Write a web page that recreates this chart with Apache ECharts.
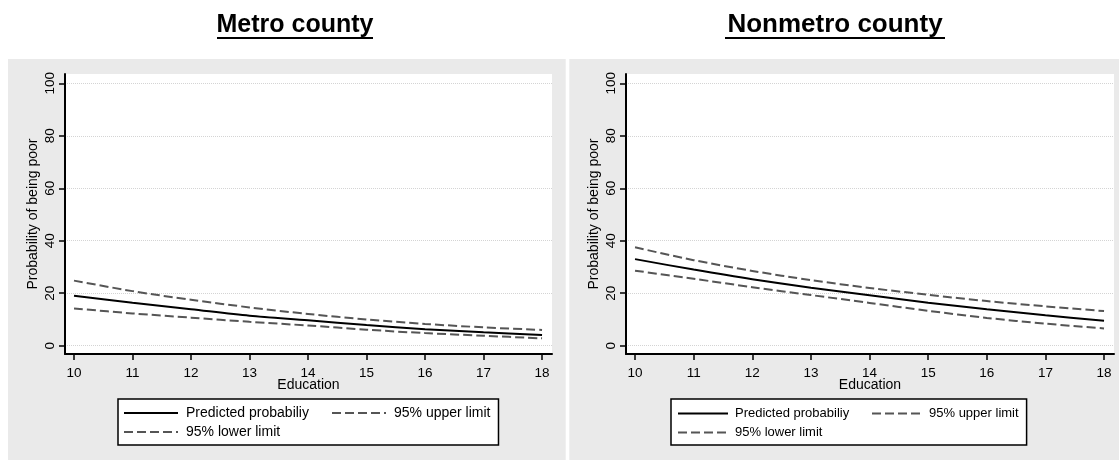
<!DOCTYPE html>
<html><head><meta charset="utf-8">
<script src="https://cdn.jsdelivr.net/npm/echarts@6/dist/echarts.min.js"></script>
<style>html,body{margin:0;padding:0;background:#fff}#c{width:1119px;height:460px}</style>
</head><body><div id="c"></div>
<script>
// ---- data ----
const educationLevels = [10, 11, 12, 13, 14, 15, 16, 17, 18];
const yTickValues = [0, 20, 40, 60, 80, 100];
const panelTitles = ['Metro county', 'Nonmetro county'];
const seriesNames = ['Predicted probabiliy', '95% upper limit', '95% lower limit'];
const xAxisTitle = 'Education';
const yAxisTitle = 'Probability of being poor';

const metroPredicted = [19.0, 16.4, 13.9, 11.4, 9.7, 7.9, 6.3, 5.1, 4.1];
const metroUpper     = [24.8, 20.8, 17.5, 14.6, 12.1, 10.0, 8.3, 7.0, 6.0];
const metroLower     = [14.2, 12.3, 10.7, 9.1, 7.7, 6.1, 4.8, 3.8, 2.8];

const nonmetroPredicted = [33.0, 29.0, 25.3, 22.1, 19.2, 16.4, 13.9, 11.6, 9.5];
const nonmetroUpper     = [37.5, 32.6, 28.5, 25.0, 22.0, 19.4, 17.0, 15.0, 13.2];
const nonmetroLower     = [28.6, 25.5, 22.3, 19.3, 16.3, 13.3, 10.6, 8.4, 6.6];

// ---- chart ----
const FONT = "'Liberation Sans', Arial, sans-serif";
const chart = echarts.init(document.getElementById('c'), null, {renderer: 'canvas'});

const pairs = (vals) => educationLevels.map((x, i) => [x, vals[i]]);

const panels = [
  {grid: {left: 65, top: 74, width: 487, height: 280},
   data: [metroPredicted, metroUpper, metroLower]},
  {grid: {left: 626, top: 74, width: 488, height: 280},
   data: [nonmetroPredicted, nonmetroUpper, nonmetroLower]}
];

const lineStyles = [
  {color: '#000000', width: 2, type: 'solid'},
  {color: '#555555', width: 2, type: [9, 4]},
  {color: '#555555', width: 2, type: [9, 4]}
];

const grids = [], xAxes = [], yAxes = [], series = [];
panels.forEach((p, gi) => {
  grids.push(Object.assign({show: true, backgroundColor: '#ffffff', borderWidth: 0}, p.grid));
  xAxes.push({
    type: 'value', gridIndex: gi, min: 9.846, max: 18.17,
    name: xAxisTitle, nameLocation: 'middle', nameGap: 24, nameMoveOverlap: false,
    nameTextStyle: {fontFamily: FONT, fontSize: 14, color: '#000'},
    axisLine: {show: true, onZero: false, lineStyle: {color: '#000', width: 2}},
    axisTick: {show: true, length: 6, lineStyle: {color: '#000', width: 1.5}, customValues: educationLevels},
    axisLabel: {fontFamily: FONT, fontSize: 13.5, color: '#000', margin: 12, customValues: educationLevels},
    splitLine: {show: false}
  });
  yAxes.push({
    type: 'value', gridIndex: gi, min: -3.16, max: 103.54,
    name: yAxisTitle, nameLocation: 'middle', nameGap: 25, nameMoveOverlap: false,
    nameTextStyle: {fontFamily: FONT, fontSize: 14, color: '#000'},
    axisLine: {show: true, onZero: false, lineStyle: {color: '#000', width: 2}},
    axisTick: {show: true, length: 6, lineStyle: {color: '#000', width: 1.5}, customValues: yTickValues},
    axisLabel: {fontFamily: FONT, fontSize: 13.5, color: '#000', margin: 8, rotate: 90, customValues: yTickValues},
    splitLine: {show: true, lineStyle: {color: '#d4d4d4', width: 1, type: 'dotted'}}
  });
  p.data.forEach((vals, si) => {
    series.push({
      type: 'line', name: seriesNames[si], xAxisIndex: gi, yAxisIndex: gi,
      data: pairs(vals), symbol: 'none', showSymbol: false, smooth: 0.3,
      lineStyle: lineStyles[si], itemStyle: {color: lineStyles[si].color},
      z: 3 - si, silent: true
    });
  });
});

const legends = [
  {left: 118, top: 399, width: 375, padding: [7, 8, 6, 5], itemGap: 5, itemWidth: 54, itemHeight: 14,
   fs: 14, w1: 140, pl: 3},
  {left: 671, top: 399, width: 350, padding: [8, 8, 6, 6], itemGap: 6, itemWidth: 50, itemHeight: 13,
   fs: 13, w1: 130, pl: 2}
].map(l => ({
  show: true, orient: 'horizontal', left: l.left, top: l.top, width: l.width,
  padding: l.padding, itemGap: l.itemGap, itemWidth: l.itemWidth, itemHeight: l.itemHeight,
  backgroundColor: '#ffffff', borderColor: '#000000', borderWidth: 1.5, borderRadius: 0,
  selectedMode: false,
  itemStyle: {opacity: 0, borderWidth: 0},
  formatter: (name) => (name === seriesNames[0] ? '{w1|' : '{w2|') + name + '}',
  textStyle: {
    fontFamily: FONT, fontSize: l.fs, color: '#000',
    rich: {
      w1: {width: l.w1, padding: [0, 0, 0, l.pl], fontFamily: FONT, fontSize: l.fs, color: '#000', lineHeight: l.fs},
      w2: {padding: [0, 0, 0, l.pl], fontFamily: FONT, fontSize: l.fs, color: '#000', lineHeight: l.fs}
    }
  },
  data: seriesNames.slice()
}));

const graphic = [
  {type: 'rect', shape: {x: 8, y: 59, width: 557.7, height: 401}, style: {fill: '#eaeaea'}, z: -100, silent: true},
  {type: 'rect', shape: {x: 569.3, y: 59, width: 549.7, height: 401}, style: {fill: '#eaeaea'}, z: -100, silent: true},
  {type: 'text', x: 295, y: 25, style: {text: panelTitles[0], font: 'bold 25px ' + FONT, fill: '#000', align: 'center', verticalAlign: 'middle'}},
  {type: 'text', x: 835, y: 25, style: {text: panelTitles[1], font: 'bold 26px ' + FONT, fill: '#000', align: 'center', verticalAlign: 'middle'}},
  {type: 'line', shape: {x1: 217, y1: 38, x2: 373, y2: 38}, style: {stroke: '#000', lineWidth: 2}},
  {type: 'line', shape: {x1: 725, y1: 38, x2: 945, y2: 38}, style: {stroke: '#000', lineWidth: 2}}
];

chart.setOption({
  animation: false,
  backgroundColor: '#ffffff',
  grid: grids, xAxis: xAxes, yAxis: yAxes, series: series,
  legend: legends, graphic: graphic
});
</script></body></html>
